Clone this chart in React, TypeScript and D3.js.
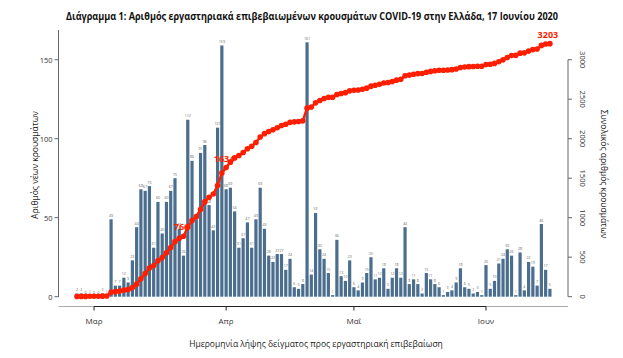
import React from "react";
import * as d3 from "d3";

const TITLE = "Διάγραμμα 1: Αριθμός εργαστηριακά επιβεβαιωμένων κρουσμάτων COVID-19 στην Ελλάδα, 17 Ιουνίου 2020";
const Y_LEFT_TITLE = "Αριθμός νέων κρουσμάτων";
const Y_RIGHT_TITLE = "Συνολικός αριθμός κρουσμάτων";
const X_TITLE = "Ημερομηνία λήψης δείγματος προς εργαστηριακή επιβεβαίωση";

const START_DATE = "2020-02-26";
const DAILY = [
  2, 2, 0, 1, 0, 0, 2, 1, 49, 7, 7, 12, 9, 23, 44, 68, 67, 70, 31, 60,
  40, 60, 67, 75, 43, 26, 112, 86, 49, 91, 96, 58, 42, 107, 159, 68, 69, 54, 31, 37,
  47, 31, 49, 69, 43, 26, 22, 27, 27, 17, 24, 6, 5, 8, 161, 14, 53, 30, 24, 15,
  1, 36, 13, 10, 23, 6, 4, 9, 15, 25, 11, 12, 18, 5, 12, 18, 12, 44, 8, 11,
  8, 2, 15, 11, 8, 6, 1, 3, 4, 9, 18, 6, 5, 2, 3, 1, 20, 5, 10, 21,
  24, 30, 26, 1, 28, 4, 22, 19, 7, 46, 17, 5,
];
const HIGHLIGHT_IDX = [25, 35, 111];

const MONTH_TICKS = ["2020-03-01", "2020-04-01", "2020-05-01", "2020-06-01"];
const MONTH_LABELS = ["Μαρ", "Απρ", "Μαΐ", "Ιουν"];
const LEFT_TICKS = [0, 50, 100, 150];
const RIGHT_TICKS = [0, 500, 1000, 1500, 2000, 2500, 3000];

const FONT = "'Open Sans', 'DejaVu Sans', sans-serif";
const BAR = "#4b6e8e";
const RED = "#ff1e00";

export default function App() {
  const start = new Date(START_DATE + "T00:00:00Z");
  const dates = DAILY.map((_, i) => d3.utcDay.offset(start, i));
  const cumulative: number[] = [];
  DAILY.reduce((acc, v) => {
    const s = acc + v;
    cumulative.push(s);
    return s;
  }, 0);

  const x = d3.scaleUtc().domain([dates[0], dates[dates.length - 1]]).range([77, 549.9]);
  const yL = d3.scaleLinear().domain([0, 150]).range([296.7, 59.7]);
  const yR = d3.scaleLinear().domain([0, 3000]).range([296.7, 59.7]);
  const barW = 3.2;

  const line = d3
    .line<number>()
    .x((_, i) => x(dates[i]))
    .y((d) => yR(d));

  const monthDates = MONTH_TICKS.map((d) => new Date(d + "T00:00:00Z"));
  const axisY = 306.5;
  const leftX = 58.5;
  const rightX = 568;

  return (
    <svg
      width={623}
      height={358}
      style={{ display: "block", position: "absolute", left: 0, top: 0, fontFamily: FONT }}
    >
      <rect width={623} height={358} fill="#fff" />
      <text x={312} y={20} textAnchor="middle" fontWeight="bold" fontSize={10} fill="#111" textLength={492} lengthAdjust="spacingAndGlyphs">
        {TITLE}
      </text>

      {/* left axis */}
      <line x1={leftX} x2={leftX} y1={30} y2={297} stroke="#666" strokeWidth={1} />
      {LEFT_TICKS.map((t) => (
        <g key={"l" + t}>
          <line x1={leftX - 4} x2={leftX} y1={yL(t)} y2={yL(t)} stroke="#666" />
          <text x={leftX - 6} y={yL(t) + 2.8} textAnchor="end" fontSize={7.5} fill="#333">
            {t}
          </text>
        </g>
      ))}
      <text transform={`translate(38,165) rotate(-90)`} textAnchor="middle" fontSize={8.5} fill="#222">
        {Y_LEFT_TITLE}
      </text>

      {/* right axis */}
      <line x1={rightX} x2={rightX} y1={yR(3000)} y2={yR(0)} stroke="#666" strokeWidth={1} />
      {RIGHT_TICKS.map((t) => (
        <g key={"r" + t}>
          <line x1={rightX} x2={rightX + 4} y1={yR(t)} y2={yR(t)} stroke="#666" />
          <text transform={`translate(${rightX + 12},${yR(t)}) rotate(90)`} textAnchor="middle" fontSize={7.5} fill="#333">
            {t}
          </text>
        </g>
      ))}
      <text transform={`translate(601,174) rotate(90)`} textAnchor="middle" fontSize={8.5} fill="#222">
        {Y_RIGHT_TITLE}
      </text>

      {/* x axis */}
      <line x1={leftX} x2={rightX} y1={axisY} y2={axisY} stroke="#aaa" strokeWidth={1} />
      <line x1={x(monthDates[0])} x2={x(monthDates[monthDates.length - 1])} y1={axisY} y2={axisY} stroke="#222" strokeWidth={1} />
      {monthDates.map((d, i) => (
        <g key={"m" + i}>
          <line x1={x(d)} x2={x(d)} y1={axisY} y2={axisY + 4} stroke="#222" />
          <text x={x(d)} y={axisY + 17} textAnchor="middle" fontSize={8} fill="#333">
            {MONTH_LABELS[i]}
          </text>
        </g>
      ))}
      <text x={316} y={347} textAnchor="middle" fontSize={8.5} fill="#222">
        {X_TITLE}
      </text>

      {/* bars */}
      {DAILY.map((v, i) => (
        <g key={"b" + i}>
          <rect x={x(dates[i]) - barW / 2} y={yL(v)} width={barW} height={yL(0) - yL(v)} fill={BAR} />
          <text x={x(dates[i])} y={yL(v) - 2.5} textAnchor="middle" fontSize={3.6} fill="#666">
            {v}
          </text>
        </g>
      ))}

      {/* cumulative highlights */}
      {HIGHLIGHT_IDX.map((i) => (
        <text key={"h" + i} x={x(dates[i]) - 2} y={yR(cumulative[i]) - 6} textAnchor="middle" fontSize={9} fontWeight="bold" fill={RED}>
          {cumulative[i]}
        </text>
      ))}

      <path d={line(cumulative) || ""} fill="none" stroke={RED} strokeWidth={2.5} />
      {cumulative.map((c, i) => (
        <circle key={"c" + i} cx={x(dates[i])} cy={yR(c)} r={2.8} fill={RED} />
      ))}
    </svg>
  );
}
